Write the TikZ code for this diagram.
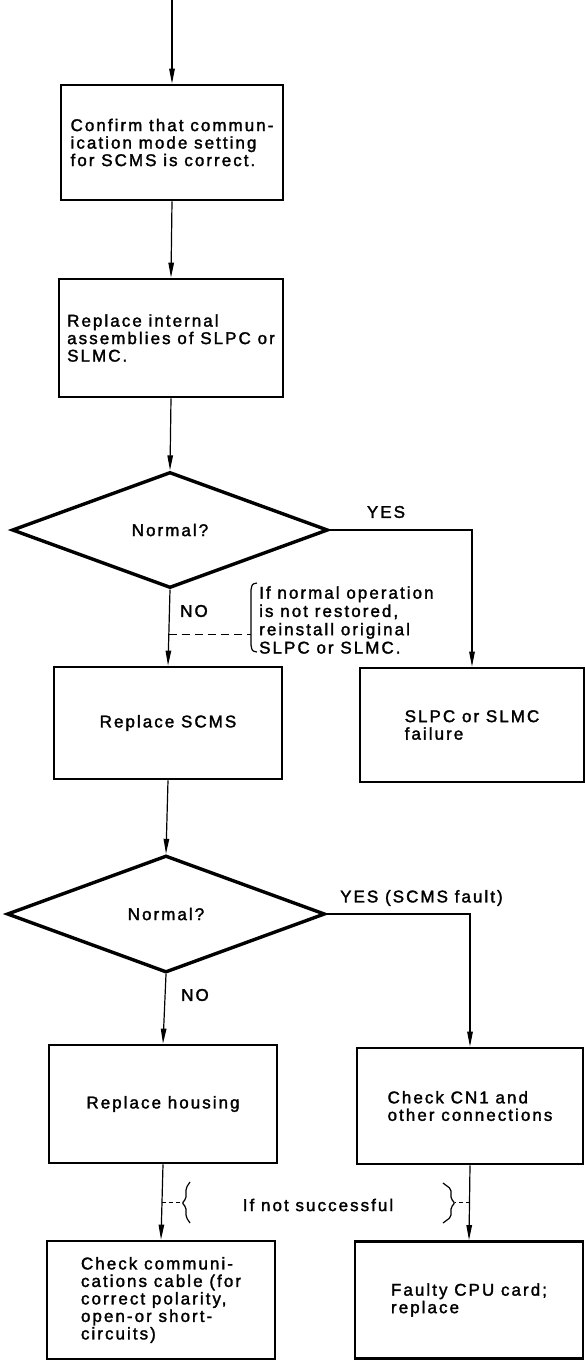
\documentclass[tikz,border=0pt]{standalone}
\usepackage{fontspec}
\setmainfont{Liberation Sans}[LetterSpace=12,FakeBold=1.8]
\usetikzlibrary{shapes.geometric,arrows.meta,calc}
\begin{document}
\begin{tikzpicture}[x=1pt,y=-1pt,
  box/.style={draw, line width=2.8pt, align=left, inner sep=3pt, font=\fontsize{17}{17.5}\selectfont},
  decision/.style={draw, diamond, line width=3.4pt, inner sep=0pt, minimum width=316pt, minimum height=116pt, font=\fontsize{17}{17.5}\selectfont},
  flow/.style={line width=1.2pt, -{Triangle[length=15pt,width=5.5pt]}},
  dashconn/.style={line width=1.1pt, dash pattern=on 8pt off 5pt},
  shortdash/.style={line width=1.1pt, dash pattern=on 4pt off 3pt},
  brk/.style={line width=1.2pt, rounded corners=2pt},
  lbl/.style={font=\fontsize{17}{17.5}\selectfont, inner sep=0pt}
]
\fill[white] (0,0) rectangle (585,1361);
\useasboundingbox (0,0) rectangle (585,1361);

\coordinate (start) at (172,0);
\node[box, minimum width=222pt, minimum height=115pt] (b1) at (172,142.5)
  {Confirm that commun-\\ication mode setting\\for SCMS is correct.};
\node[box, minimum width=224pt, minimum height=118pt] (b2) at (171,338)
  {Replace internal\\assemblies of SLPC or\\SLMC.};
\node[decision] (d1) at (170,530) {Normal?};
\node[box, minimum width=228pt, minimum height=112pt] (scms) at (168,723) {Replace SCMS};
\node[box, minimum width=224pt, minimum height=114pt] (slpc) at (472,725) {SLPC or SLMC\\failure};
\node[decision, minimum width=318pt, minimum height=117pt] (d2) at (166,914) {Normal?};
\node[box, minimum width=228pt, minimum height=118pt] (house) at (163,1104) {Replace housing};
\node[box, minimum width=226pt, minimum height=116pt] (cn1) at (470,1106) {Check CN1 and\\other connections};
\node[box, minimum width=228pt, minimum height=118pt] (comm) at (161,1300)
  {Check communi-\\cations cable (for\\correct polarity,\\open-or short-\\circuits)};
\node[box, minimum width=228pt, minimum height=117pt] (cpu) at (469,1300) {Faulty CPU card;\\replace};

% connectors
\draw[flow] (start) -- (b1.north);
\draw[flow] (b1.south) -- (b2.north);
\draw[flow] (b2.south) -- (d1.north);
\draw[flow] (d1.south) -- (scms.north);
\draw[flow] (d1.east) -| (slpc.north);
\draw[flow] (scms.south) -- (d2.north);
\draw[flow] (d2.south) -- (house.north);
\draw[flow] (d2.east) -| (cn1.north);
\draw[flow] (house.south) -- (comm.north);
\draw[flow] (cn1.south) -- (cpu.north);

% labels
\node[lbl] (yes1) at (386,512) {YES};
\node[lbl] (no1) at (194,611) {NO};
\node[lbl, anchor=west] (yes2) at (340,898) {YES (SCMS fault)};
\node[lbl] (no2) at (195,995) {NO};

% note 1 with bracket
\coordinate (dA) at ($(d1.south)!0.595!(scms.north)$);
\coordinate (bkA) at (251,635);
\draw[dashconn] (dA) -- (dA -| bkA);
\draw[line width=1.2pt] (257,583) .. controls (252,584) .. (251,590) -- (251,645) .. controls (252,651) .. (257,652);
\node[lbl, anchor=west, align=left, font=\fontsize{17}{18.3}\selectfont] (note1) at (259,620)
  {If normal operation\\is not restored,\\reinstall original\\SLPC or SLMC.};

% note 2 with braces
\coordinate (dL) at ($(house.south)!0.51!(comm.north)$);
\coordinate (dR) at ($(cn1.south)!0.5!(cpu.north)$);
\coordinate (brL) at (182,1203);
\coordinate (brR) at (455,1203);
\draw[shortdash] (dL) -- (dL -| brL);
\draw[shortdash] (dR) -- (dR -| brR);
\draw[brk] (190,1182) -- (186,1188) -- (186,1199) -- (182,1203) -- (186,1207) -- (186,1217) -- (190,1223);
\draw[brk] (443,1183) -- (451,1189) -- (451,1199) -- (455,1203) -- (451,1207) -- (451,1217) -- (443,1223);
\node[lbl] (note2) at (318,1205) {If not successful};
\end{tikzpicture}
\end{document}
